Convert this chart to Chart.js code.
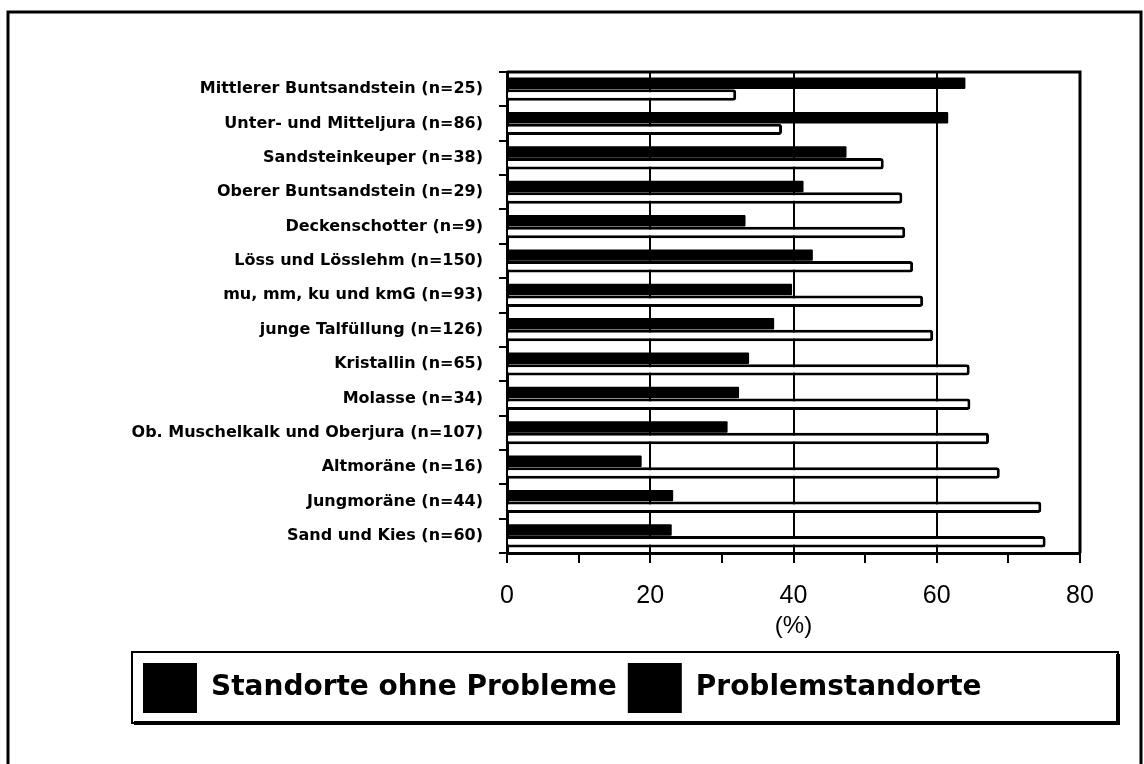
<!DOCTYPE html>
<html>
<head>
<meta charset="utf-8">
<script src="https://cdn.jsdelivr.net/npm/chart.js@4.4.1/dist/chart.umd.min.js"></script>
<style>
    html, body { margin: 0; padding: 0; background: #fff; }
    canvas { display: block; }
</style>
</head>
<body>
<canvas id="geoChart" width="1144" height="764"></canvas>
<script>
// Kategorien (Geologie) and the two shares in %
const categories = [
    'Mittlerer Buntsandstein (n=25)',
    'Unter- und Mitteljura (n=86)',
    'Sandsteinkeuper (n=38)',
    'Oberer Buntsandstein (n=29)',
    'Deckenschotter (n=9)',
    'Löss und Lösslehm (n=150)',
    'mu, mm, ku und kmG (n=93)',
    'junge Talfüllung (n=126)',
    'Kristallin (n=65)',
    'Molasse (n=34)',
    'Ob. Muschelkalk und Oberjura (n=107)',
    'Altmoräne (n=16)',
    'Jungmoräne (n=44)',
    'Sand und Kies (n=60)'
];
const ohneProbleme = [64, 61.6, 47.4, 41.4, 33.3, 42.7, 39.8, 37.3, 33.8, 32.4, 30.8, 18.8, 23.2, 23.0];
const problemStandorte = [32, 38.4, 52.6, 55.2, 55.6, 56.7, 58.1, 59.5, 64.6, 64.7, 67.3, 68.8, 74.6, 75.2];
const seriesNames = ['Standorte ohne Probleme', 'Problemstandorte'];
const xLabelTicks = [0, 20, 40, 60, 80];
const xGridTicks = [20, 40, 60];
const axisTitle = '(%)';

Chart.defaults.color = '#000';
Chart.defaults.font.family = "'DejaVu Sans', sans-serif";

// white page + scanned frame (top, left, right)
const pageFrame = {
    id: 'pageFrame',
    beforeDraw(chart) {
        const { ctx, width, height } = chart;
        ctx.save();
        ctx.fillStyle = '#fff';
        ctx.fillRect(0, 0, width, height);
        ctx.strokeStyle = '#000';
        ctx.lineWidth = 3;
        ctx.beginPath();
        ctx.moveTo(8, height);
        ctx.lineTo(8, 12);
        ctx.lineTo(1141, 12);
        ctx.lineTo(1141, height);
        ctx.stroke();
        ctx.restore();
    }
};

// top + right edge of the plot box
const plotFrame = {
    id: 'plotFrame',
    afterDatasetsDraw(chart) {
        const { ctx, chartArea: a } = chart;
        ctx.save();
        ctx.strokeStyle = '#000';
        ctx.lineWidth = 3;
        ctx.beginPath();
        ctx.moveTo(a.left, a.top);
        ctx.lineTo(a.right, a.top);
        ctx.lineTo(a.right, a.bottom);
        ctx.stroke();
        ctx.restore();
    }
};

// box around the legend with a heavier bottom/right edge
const legendFrame = {
    id: 'legendFrame',
    afterDraw(chart) {
        const lg = chart.legend;
        if (!lg) return;
        const { ctx } = chart;
        const left = lg.left, top = lg.top, right = lg.left + 986, bottom = lg.bottom;
        ctx.save();
        ctx.strokeStyle = '#000';
        ctx.lineWidth = 2;
        ctx.strokeRect(left, top, right - left, bottom - top);
        ctx.lineWidth = 4;
        ctx.beginPath();
        ctx.moveTo(left + 2, bottom);
        ctx.lineTo(right, bottom);
        ctx.lineTo(right, top + 2);
        ctx.stroke();
        ctx.restore();
    }
};

new Chart(document.getElementById('geoChart').getContext('2d'), {
    type: 'bar',
    data: {
        labels: categories,
        datasets: [{
            label: seriesNames[0],
            data: ohneProbleme,
            backgroundColor: '#000',
            borderWidth: 0,
            borderRadius: 1,
            categoryPercentage: 0.68,
            barPercentage: 0.98
        }, {
            label: seriesNames[1],
            data: problemStandorte,
            backgroundColor: '#fff',
            borderColor: '#000',
            borderWidth: 3,
            borderRadius: 3,
            categoryPercentage: 0.68,
            barPercentage: 0.98
        }]
    },
    options: {
        responsive: false,
        animation: false,
        indexAxis: 'y',
        layout: { padding: { left: 132, right: 64, top: 72, bottom: 41 } },
        plugins: {
            tooltip: { enabled: false },
            legend: {
                position: 'bottom',
                align: 'start',
                labels: {
                    boxWidth: 54,
                    boxHeight: 50,
                    padding: 11,
                    color: '#000',
                    font: { size: 28, weight: 'bold', family: "'DejaVu Sans', sans-serif" },
                    generateLabels: (chart) => chart.data.datasets.map((ds, i) => ({
                        text: ds.label,
                        fillStyle: '#000',
                        strokeStyle: '#000',
                        lineWidth: 0,
                        datasetIndex: i
                    }))
                }
            }
        },
        scales: {
            x: {
                min: 0,
                max: 80,
                afterFit: (scale) => { scale.height = 99; },
                ticks: {
                    stepSize: 10,
                    padding: 18,
                    maxRotation: 0,
                    autoSkip: false,
                    color: '#000',
                    font: { size: 25, family: "'Liberation Sans', Arial, sans-serif" },
                    callback: (v) => xLabelTicks.includes(v) ? String(v) : ''
                },
                grid: {
                    color: (c) => xGridTicks.includes(c.tick && c.tick.value) ? '#000' : 'rgba(0,0,0,0)',
                    tickColor: '#000',
                    lineWidth: 2,
                    tickLength: 10
                },
                border: { display: true, color: '#000', width: 3 },
                title: {
                    display: true,
                    text: axisTitle,
                    color: '#000',
                    padding: { top: 0, bottom: 11 },
                    font: { size: 24, family: "'Liberation Sans', Arial, sans-serif" }
                }
            },
            y: {
                afterFit: (scale) => { scale.width = 375; },
                ticks: {
                    padding: 16,
                    color: '#000',
                    autoSkip: false,
                    font: { size: 16, weight: 'bold', family: "'DejaVu Sans', sans-serif" }
                },
                grid: {
                    drawOnChartArea: false,
                    tickColor: '#000',
                    lineWidth: 2,
                    tickLength: 8
                },
                border: { display: true, color: '#000', width: 3 }
            }
        }
    },
    plugins: [pageFrame, plotFrame, legendFrame]
});
</script>
</body>
</html>
